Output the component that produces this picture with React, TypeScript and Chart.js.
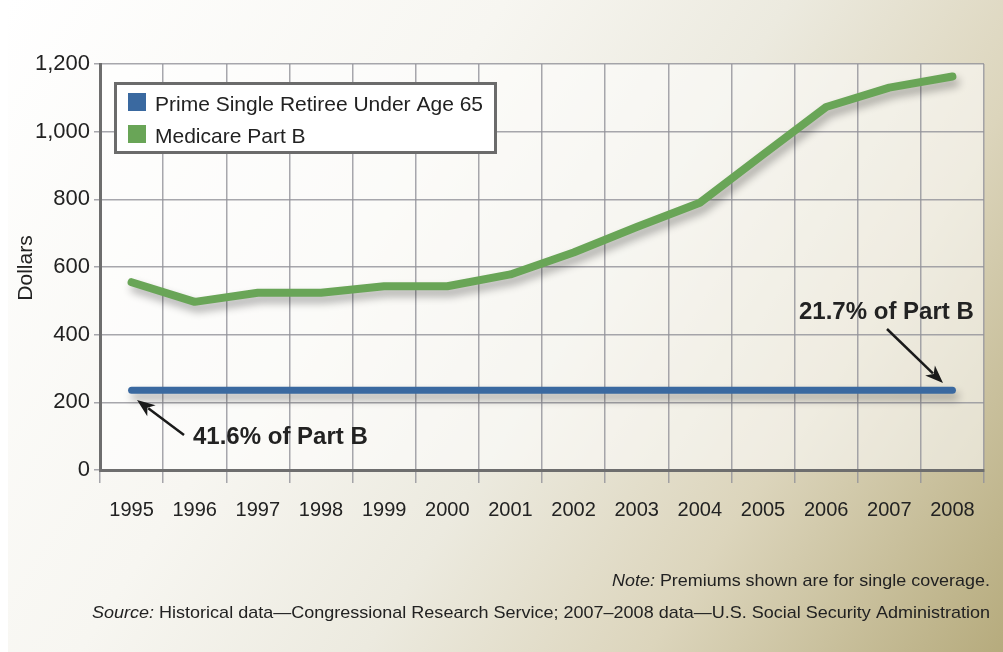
import React, { useEffect, useRef } from "react";
import { Chart, registerables } from "chart.js";

Chart.register(...registerables);

const years = ["1995", "1996", "1997", "1998", "1999", "2000", "2001", "2002", "2003", "2004", "2005", "2006", "2007", "2008"];
const primeSingleRetiree = [236, 236, 236, 236, 236, 236, 236, 236, 236, 236, 236, 236, 236, 236];
const medicarePartB = [555, 497, 524, 524, 543, 543, 578, 643, 718, 790, 932, 1073, 1130, 1163];
const seriesNames = ["Prime Single Retiree Under Age 65", "Medicare Part B"];
const seriesColors = ["#3a69a0", "#69a557"];
const yAxisTitle = "Dollars";
const leftCallout = "41.6% of Part B";
const rightCallout = "21.7% of Part B";
const noteLabel = "Note:";
const noteText = " Premiums shown are for single coverage.";
const sourceLabel = "Source:";
const sourceText = " Historical data\u2014Congressional Research Service; 2007\u20132008 data\u2014U.S. Social Security Administration";

const FONT = "'Liberation Sans', Arial, Helvetica, sans-serif";
const W = 1003;
const H = 652;

function drawArrow(ctx: CanvasRenderingContext2D, x1: number, y1: number, x2: number, y2: number) {
  const ang = Math.atan2(y2 - y1, x2 - x1);
  const headLen = 18;
  const headW = 7;
  const bx = x2 - headLen * Math.cos(ang);
  const by = y2 - headLen * Math.sin(ang);
  ctx.save();
  ctx.strokeStyle = "#1a1a1a";
  ctx.fillStyle = "#1a1a1a";
  ctx.lineWidth = 2.5;
  ctx.beginPath();
  ctx.moveTo(x1, y1);
  ctx.lineTo(bx + 4 * Math.cos(ang), by + 4 * Math.sin(ang));
  ctx.stroke();
  ctx.beginPath();
  ctx.moveTo(x2, y2);
  ctx.lineTo(bx + headW * Math.sin(ang), by - headW * Math.cos(ang));
  ctx.lineTo(bx + 5 * Math.cos(ang), by + 5 * Math.sin(ang));
  ctx.lineTo(bx - headW * Math.sin(ang), by + headW * Math.cos(ang));
  ctx.closePath();
  ctx.fill();
  ctx.restore();
}

const backgroundPlugin = {
  id: "bgPlugin",
  beforeDraw(chart: any) {
    const ctx = chart.ctx as CanvasRenderingContext2D;
    const { left, top, right, bottom } = chart.chartArea;
    ctx.save();
    ctx.fillStyle = "#ffffff";
    ctx.fillRect(0, 0, W, H);
    const g = ctx.createLinearGradient(8, 0, W, H);
    g.addColorStop(0, "#ffffff");
    g.addColorStop(0.35, "#f7f6f1");
    g.addColorStop(0.55, "#eceadf");
    g.addColorStop(0.75, "#dcd5bc");
    g.addColorStop(1, "#b6ab7d");
    ctx.fillStyle = g;
    ctx.fillRect(8, 0, W - 8, H);
    ctx.fillStyle = "rgba(255,255,255,0.55)";
    ctx.fillRect(left, top, right - left, bottom - top);
    ctx.restore();
  },
};

const shadowPlugin = {
  id: "shadowPlugin",
  beforeDatasetsDraw(chart: any) {
    const ctx = chart.ctx as CanvasRenderingContext2D;
    ctx.save();
    ctx.shadowColor = "rgba(0,0,0,0.32)";
    ctx.shadowBlur = 8;
    ctx.shadowOffsetX = 3;
    ctx.shadowOffsetY = 6;
  },
  afterDatasetsDraw(chart: any) {
    chart.ctx.restore();
  },
};

const overlayPlugin = {
  id: "overlayPlugin",
  afterDraw(chart: any) {
    const ctx = chart.ctx as CanvasRenderingContext2D;
    ctx.save();

    // Y axis title
    ctx.save();
    ctx.translate(26, 268);
    ctx.rotate(-Math.PI / 2);
    ctx.fillStyle = "#222";
    ctx.font = `21px ${FONT}`;
    ctx.textAlign = "center";
    ctx.textBaseline = "middle";
    ctx.fillText(yAxisTitle, 0, 0);
    ctx.restore();

    // Legend box
    ctx.fillStyle = "#ffffff";
    ctx.fillRect(115, 83, 381, 70);
    ctx.strokeStyle = "#6b6b6b";
    ctx.lineWidth = 3;
    ctx.strokeRect(115.5, 83.5, 380, 69);
    ctx.font = `21px ${FONT}`;
    ctx.textAlign = "left";
    ctx.textBaseline = "alphabetic";
    const rows = [111, 143];
    seriesNames.forEach((name, i) => {
      ctx.fillStyle = seriesColors[i];
      ctx.fillRect(128, rows[i] - 18, 18, 18);
      ctx.fillStyle = "#222";
      ctx.fillText(name, 155, rows[i]);
    });

    // Callouts
    ctx.fillStyle = "#222";
    ctx.font = `bold 24px ${FONT}`;
    ctx.fillText(leftCallout, 193, 444, 176);
    ctx.fillText(rightCallout, 799, 319, 175);
    drawArrow(ctx, 184, 435, 137, 400);
    drawArrow(ctx, 887, 329, 943, 383);

    // Footer
    const drawRight = (label: string, text: string, right: number, y: number, targetW: number) => {
      ctx.font = `17px ${FONT}`;
      const tw = ctx.measureText(text).width;
      ctx.font = `italic 17px ${FONT}`;
      const lw = ctx.measureText(label).width;
      const total = tw + lw;
      const k = targetW / total;
      ctx.save();
      ctx.translate(right - targetW, y);
      ctx.scale(k, 1);
      ctx.fillStyle = "#222";
      ctx.textAlign = "left";
      ctx.font = `italic 17px ${FONT}`;
      ctx.fillText(label, 0, 0);
      ctx.font = `17px ${FONT}`;
      ctx.fillText(text, lw, 0);
      ctx.restore();
    };
    drawRight(noteLabel, noteText, 990, 586, 378);
    drawRight(sourceLabel, sourceText, 990, 618, 898);

    ctx.restore();
  },
};

export default function App() {
  const canvasRef = useRef<HTMLCanvasElement | null>(null);

  useEffect(() => {
    if (!canvasRef.current) return;
    const chart = new Chart(canvasRef.current, {
      type: "line",
      data: {
        labels: years,
        datasets: [
          {
            label: seriesNames[0],
            data: primeSingleRetiree,
            borderColor: seriesColors[0],
            backgroundColor: seriesColors[0],
            borderWidth: 7,
            borderCapStyle: "round",
            borderJoinStyle: "round",
            pointRadius: 0,
            tension: 0,
          },
          {
            label: seriesNames[1],
            data: medicarePartB,
            borderColor: seriesColors[1],
            backgroundColor: seriesColors[1],
            borderWidth: 8,
            borderCapStyle: "round",
            borderJoinStyle: "round",
            pointRadius: 0,
            tension: 0,
          },
        ],
      },
      options: {
        animation: false,
        responsive: false,
        maintainAspectRatio: false,
        devicePixelRatio: 1,
        layout: { padding: { left: 0, right: 19, top: 64, bottom: 0 } },
        plugins: {
          legend: { display: false },
          tooltip: { enabled: false },
          title: { display: false },
        },
        scales: {
          x: {
            type: "category",
            offset: true,
            grid: {
              offset: true,
              color: "rgba(145,145,153,0.8)",
              lineWidth: 1.5,
              tickLength: 13,
              drawTicks: true,
            },
            border: { display: true, color: "#6e6e6e", width: 3 },
            ticks: {
              color: "#222",
              font: { family: FONT, size: 20 },
              padding: 15,
              maxRotation: 0,
              autoSkip: false,
            },
            afterFit(scale: any) {
              scale.height = 182;
            },
          },
          y: {
            min: 0,
            max: 1200,
            grid: {
              color: "rgba(145,145,153,0.8)",
              lineWidth: 1.5,
              tickLength: 6,
            },
            border: { display: true, color: "#6e6e6e", width: 3 },
            ticks: {
              stepSize: 200,
              color: "#222",
              font: { family: FONT, size: 22 },
              padding: 4,
              callback: (v: any) => Number(v).toLocaleString("en-US"),
            },
            afterFit(scale: any) {
              scale.width = 100;
            },
          },
        },
      },
      plugins: [backgroundPlugin, shadowPlugin, overlayPlugin],
    } as any);
    return () => chart.destroy();
  }, []);

  return (
    <div style={{ position: "fixed", left: 0, top: 0, width: W, height: H, overflow: "hidden" }}>
      <canvas ref={canvasRef} width={W} height={H} style={{ display: "block", width: W, height: H }} />
    </div>
  );
}
